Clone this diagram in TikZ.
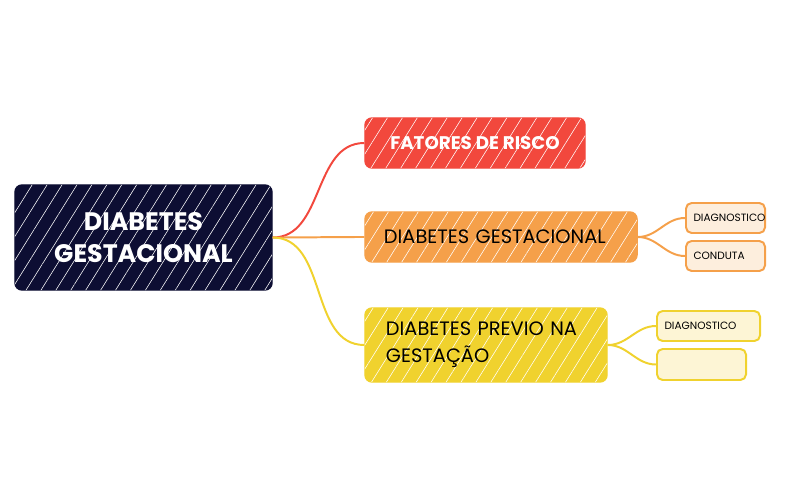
\documentclass[tikz,border=0pt]{standalone}
\usepackage{fontspec}
\setmainfont{Poppins}
\usetikzlibrary{patterns.meta}
\definecolor{navy}{HTML}{0D0E33}
\definecolor{vermelho}{HTML}{F2483D}
\definecolor{laranja}{HTML}{F5A04A}
\definecolor{amarelo}{HTML}{F0D22E}
\definecolor{laranjaclaro}{HTML}{FDEEDD}
\definecolor{amareloclaro}{HTML}{FDF5D5}
\tikzset{
  rabisco/.style={postaction={fill opacity=0.35, pattern={Lines[angle=58,distance=9pt,line width=0.4pt]}, pattern color=white}},
  caixa/.style={rounded corners=5pt, line width=1pt, rabisco},
  filho/.style={rounded corners=4pt, line width=1.4pt, font=\fontsize{7.5}{9}\selectfont, text width=#1, align=left, inner sep=0pt, minimum height=0.75cm},
  ramo/.style={line width=1.4pt}
}
\begin{document}
\begin{tikzpicture}[x=0.025cm,y=-0.025cm]
\useasboundingbox (0,0) rectangle (806,499);
\node[caixa, fill=navy, draw=navy, text=white, align=center, minimum width=6.425cm, minimum height=2.625cm, font=\fontsize{18}{23}\selectfont\bfseries] (raiz) at (143.5,237.5) {DIABETES\\GESTACIONAL};
\node[caixa, fill=vermelho, draw=vermelho, text=white, minimum width=5.5cm, minimum height=1.25cm, font=\fontsize{13}{16}\selectfont\bfseries] (risco) at (475,143) {FATORES DE RISCO};
\node[caixa, fill=laranja, draw=laranja, minimum width=6.8cm, minimum height=1.25cm, text width=5.85cm, align=left, font=\fontsize{13.8}{16}\selectfont] (gest) at (501,237) {DIABETES GESTACIONAL};
\node[caixa, fill=amarelo, draw=amarelo, minimum width=6.05cm, minimum height=1.85cm, text width=5cm, align=left, font=\fontsize{13.8}{19}\selectfont] (previo) at (486,345) {DIABETES PREVIO NA\\GESTAÇÃO};
\node[filho=1.6cm, fill=laranjaclaro, draw=laranja, minimum width=1.975cm] (diag1) at (725.5,218) {DIAGNOSTICO};
\node[filho=1.6cm, fill=laranjaclaro, draw=laranja, minimum width=1.975cm] (conduta) at (725.5,256) {CONDUTA};
\node[filho=2.2cm, fill=amareloclaro, draw=amarelo, minimum width=2.575cm] (diag2) at (708.5,326) {DIAGNOSTICO};
\node[filho=2cm, fill=amareloclaro, draw=amarelo, minimum width=2.225cm, minimum height=0.775cm] (vazio) at (701.5,364.5) {};
\draw[ramo, vermelho] (raiz.east) to[out=0,in=180] (risco.west);
\draw[ramo, laranja] (raiz.east) to[out=0,in=180] (gest.west);
\draw[ramo, amarelo] (raiz.east) to[out=0,in=180] (previo.west);
\draw[ramo, laranja] (gest.east) to[out=0,in=180] (diag1.west);
\draw[ramo, laranja] (gest.east) to[out=0,in=180] (conduta.west);
\draw[ramo, amarelo] (previo.east) to[out=0,in=180] (diag2.west);
\draw[ramo, amarelo] (previo.east) to[out=0,in=180] (vazio.west);
\end{tikzpicture}
\end{document}
